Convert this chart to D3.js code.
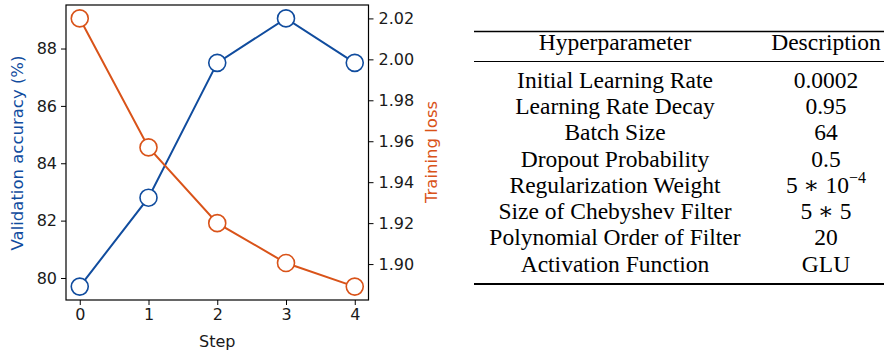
<!DOCTYPE html>
<html>
<head>
<meta charset="utf-8">
<script src="https://cdn.jsdelivr.net/npm/d3@7"></script>
<style>
  body { margin: 0; background: #fff; }
  svg { display: block; }
</style>
</head>
<body>
<svg id="chart" width="884" height="353"></svg>
<script>
// data
const steps = [0, 1, 2, 3, 4];
const accuracy = [79.7, 82.8, 87.5, 89.05, 87.5];
const loss = [2.02, 1.957, 1.92, 1.9005, 1.889];
const accTicks = [80, 82, 84, 86, 88];
const lossTicks = [1.90, 1.92, 1.94, 1.96, 1.98, 2.00, 2.02];

const paramNames = ['Initial Learning Rate', 'Learning Rate Decay', 'Batch Size', 'Dropout Probability',
  'Regularization Weight', 'Size of Chebyshev Filter', 'Polynomial Order of Filter', 'Activation Function'];
const paramValues = ['0.0002', '0.95', '64', '0.5', '5 ∗ 10^−4', '5 ∗ 5', '20', 'GLU'];
const headers = ['Hyperparameter', 'Description'];

const BLUE = '#104c9e';
const ORANGE = '#d95319';

const svg = d3.select('#chart');

// plot frame
const plot = {left: 66, right: 368.5, top: 5, bottom: 300};

const x = d3.scaleLinear().domain([-0.2, 4.2]).range([plot.left, plot.right]);
// matplotlib style 5% margins
function padded(vals) {
  const [lo, hi] = d3.extent(vals);
  const m = (hi - lo) * 0.05;
  return [lo - m, hi + m];
}
const yAcc = d3.scaleLinear().domain(padded(accuracy)).range([plot.bottom, plot.top]);
const yLoss = d3.scaleLinear().domain(padded(loss)).range([plot.bottom, plot.top]);

const tickFont = '"DejaVu Sans", sans-serif';
const tickSize = '16px';

const g = svg.append('g');

// axes
const xAxis = g.append('g')
  .attr('transform', `translate(0,${plot.bottom})`)
  .call(d3.axisBottom(x).tickValues(steps).tickFormat(d3.format('d')).tickSize(5).tickPadding(4));
const leftAxis = g.append('g')
  .attr('transform', `translate(${plot.left},0)`)
  .call(d3.axisLeft(yAcc).tickValues(accTicks).tickFormat(d3.format('d')).tickSize(5).tickPadding(4));
const rightAxis = g.append('g')
  .attr('transform', `translate(${plot.right},0)`)
  .call(d3.axisRight(yLoss).tickValues(lossTicks).tickFormat(d3.format('.2f')).tickSize(5).tickPadding(5));

[xAxis, leftAxis, rightAxis].forEach(a => {
  a.select('.domain').remove();
  a.selectAll('.tick line').attr('stroke', '#000').attr('stroke-width', 1);
  a.selectAll('.tick text')
    .attr('fill', '#1a1a1a')
    .style('font-family', tickFont)
    .style('font-size', tickSize);
});

// frame
g.append('rect')
  .attr('x', plot.left).attr('y', plot.top)
  .attr('width', plot.right - plot.left).attr('height', plot.bottom - plot.top)
  .attr('fill', 'none').attr('stroke', '#000').attr('stroke-width', 1.2);

// lines
function series(vals, yScale, color) {
  const line = d3.line().x((d, i) => x(steps[i])).y(d => yScale(d));
  g.append('path')
    .datum(vals)
    .attr('d', line)
    .attr('fill', 'none')
    .attr('stroke', color)
    .attr('stroke-width', 2);
  g.append('g').selectAll('circle')
    .data(vals)
    .enter().append('circle')
    .attr('cx', (d, i) => x(steps[i]))
    .attr('cy', d => yScale(d))
    .attr('r', 8.5)
    .attr('fill', '#fff')
    .attr('stroke', color)
    .attr('stroke-width', 1.6);
}
series(accuracy, yAcc, BLUE);
series(loss, yLoss, ORANGE);

// axis labels
g.append('text')
  .attr('x', (plot.left + plot.right) / 2)
  .attr('y', 347)
  .attr('text-anchor', 'middle')
  .style('font-family', tickFont).style('font-size', tickSize)
  .attr('fill', '#1a1a1a')
  .text('Step');
g.append('text')
  .attr('transform', 'translate(23,153) rotate(-90)')
  .attr('text-anchor', 'middle')
  .style('font-family', tickFont).style('font-size', '16.5px')
  .attr('fill', BLUE)
  .text('Validation accuracy (%)');
g.append('text')
  .attr('transform', 'translate(437,152) rotate(-90)')
  .attr('text-anchor', 'middle')
  .style('font-family', tickFont).style('font-size', '16.5px')
  .attr('fill', ORANGE)
  .text('Training loss');

// table
const table = {left: 474, right: 884, col1: 615, col2: 826, top: 31.5, headRule: 61.5, bottom: 284};
// DejaVu Serif as second choice supplies a small centred math asterisk
const serif = '"Liberation Serif", "DejaVu Serif", serif';
const tableFont = '23.5px';
const t = svg.append('g');

t.append('line').attr('x1', table.left).attr('x2', table.right)
  .attr('y1', table.top).attr('y2', table.top).attr('stroke', '#000').attr('stroke-width', 1.3);
t.append('line').attr('x1', table.left).attr('x2', table.right)
  .attr('y1', table.headRule).attr('y2', table.headRule).attr('stroke', '#000').attr('stroke-width', 1);
t.append('line').attr('x1', table.left).attr('x2', table.right)
  .attr('y1', table.bottom).attr('y2', table.bottom).attr('stroke', '#000').attr('stroke-width', 2);

t.selectAll('text.head')
  .data(headers)
  .enter().append('text')
  .attr('class', 'head')
  .attr('x', (d, i) => i === 0 ? table.col1 : table.col2)
  .attr('y', 50)
  .attr('text-anchor', 'middle')
  .style('font-family', serif).style('font-size', tableFont)
  .text(d => d);

const rowY = d3.scaleLinear().domain([0, paramNames.length - 1]).range([88, 271.5]);

t.selectAll('text.name')
  .data(paramNames)
  .enter().append('text')
  .attr('class', 'name')
  .attr('x', table.col1)
  .attr('y', (d, i) => rowY(i))
  .attr('text-anchor', 'middle')
  .style('font-family', serif).style('font-size', tableFont)
  .text(d => d);

t.selectAll('text.val')
  .data(paramValues)
  .enter().append('text')
  .attr('class', 'val')
  .attr('x', table.col2)
  .attr('y', (d, i) => rowY(i))
  .attr('text-anchor', 'middle')
  .style('font-family', serif).style('font-size', tableFont)
  .each(function(d) {
    const parts = d.split('^');
    const el = d3.select(this);
    el.append('tspan').text(parts[0]);
    if (parts[1]) {
      el.append('tspan').attr('dy', -10).style('font-size', '16px').text(parts[1]);
    }
  });
</script>
</body>
</html>
